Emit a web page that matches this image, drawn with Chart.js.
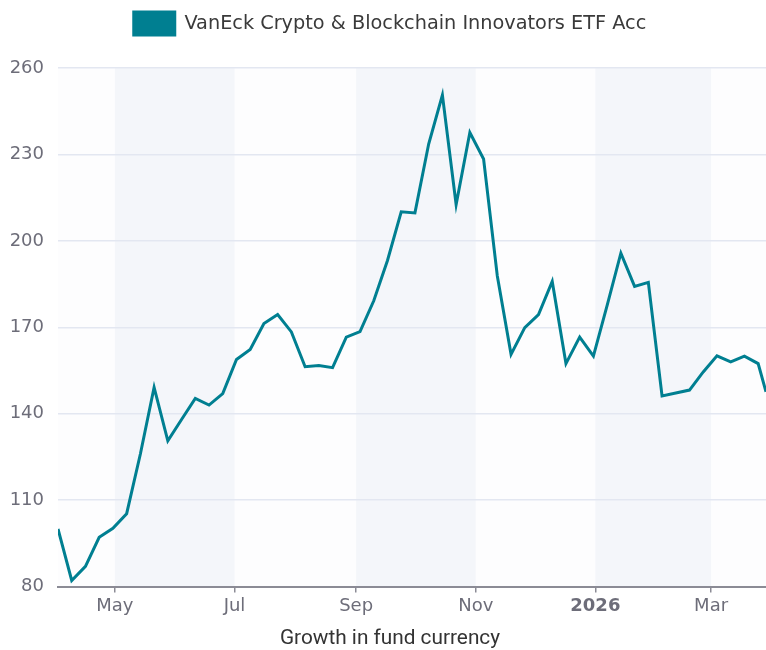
<!DOCTYPE html>
<html>
<head>
<meta charset="utf-8">
<script src="https://cdn.jsdelivr.net/npm/chart.js@4.4.1/dist/chart.umd.min.js"></script>
<style>
  body { margin: 0; background: #ffffff; }
  #wrap { width: 766px; height: 650px; }
</style>
</head>
<body>
<div id="wrap"><canvas id="growth-chart" width="766" height="650"></canvas></div>
<script>
const seriesLabel = 'VanEck Crypto & Blockchain Innovators ETF Acc';

// weekly closes, rebased to 100
const dates = [
  '2025-04-02', '2025-04-09', '2025-04-16', '2025-04-23', '2025-04-30', '2025-05-07',
  '2025-05-14', '2025-05-21', '2025-05-28', '2025-06-04', '2025-06-11', '2025-06-18',
  '2025-06-25', '2025-07-02', '2025-07-09', '2025-07-16', '2025-07-23', '2025-07-30',
  '2025-08-06', '2025-08-13', '2025-08-20', '2025-08-27', '2025-09-03', '2025-09-10',
  '2025-09-17', '2025-09-24', '2025-10-01', '2025-10-08', '2025-10-15', '2025-10-22',
  '2025-10-29', '2025-11-05', '2025-11-12', '2025-11-19', '2025-11-26', '2025-12-03',
  '2025-12-10', '2025-12-17', '2025-12-24', '2025-12-31', '2026-01-07', '2026-01-14',
  '2026-01-21', '2026-01-28', '2026-02-04', '2026-02-11', '2026-02-18', '2026-02-25',
  '2026-03-04', '2026-03-11', '2026-03-18', '2026-03-25', '2026-03-29'
];
const values = [
  100, 82.1, 87.0, 97.1, 100.2, 105.3,
  126, 149.1, 130.6, 138.0, 145.3, 143.0,
  147.0, 158.8, 162.3, 171.3, 174.4, 168.4,
  156.3, 156.7, 156.0, 166.6, 168.5, 179.2,
  193.2, 210.1, 209.7, 233.6, 250.6, 212.6,
  237.6, 228.4, 187.8, 160.6, 169.9, 174.4,
  185.9, 157.4, 166.6, 160.0, 177.6, 195.7,
  184.2, 185.6, 146.2, 147.2, 148.2, 154.5,
  160.1, 158.0, 160.0, 157.4, 147.6
];

const tickDates = ['2025-05-01', '2025-07-01', '2025-09-01', '2025-11-01', '2026-01-01', '2026-03-01'];
const tickLabels = ['May', 'Jul', 'Sep', 'Nov', '2026', 'Mar'];
const bandRanges = [['2025-05-01', '2025-07-01'], ['2025-09-01', '2025-11-01'], ['2026-01-01', '2026-03-01']];

const yTicks = [80, 110, 140, 170, 200, 230, 260];

const toDay = (d) => Date.parse(d + 'T00:00:00Z') / 86400000;

const teal = '#007f91';
const axisGray = '#8b8b95';
const labelGray = '#6d6d79';

const bandsPlugin = {
  id: 'bands',
  beforeDraw(chart) {
    const { ctx, chartArea, scales } = chart;
    ctx.save();
    ctx.fillStyle = '#fdfdfe';
    ctx.fillRect(chartArea.left, chartArea.top, chartArea.right - chartArea.left, chartArea.bottom - chartArea.top);
    ctx.fillStyle = '#f4f6fa';
    bandRanges.forEach(([a, b]) => {
      const x1 = scales.x.getPixelForValue(toDay(a));
      const x2 = scales.x.getPixelForValue(toDay(b));
      ctx.fillRect(x1, chartArea.top, x2 - x1, chartArea.bottom - chartArea.top);
    });
    ctx.restore();
  }
};

// extra room between legend and plot, and let the y labels use the left margin
const layoutTweaks = {
  id: 'layoutTweaks',
  beforeInit(chart) {
    const fit = chart.legend.fit;
    chart.legend.fit = function () {
      fit.bind(chart.legend)();
      this.height += 23;
    };
  },
  afterLayout(chart) {
    const y = chart.scales.y;
    y.left = 0;
    y.width = y.right;
  }
};

const ctx = document.getElementById('growth-chart').getContext('2d');

new Chart(ctx, {
  type: 'line',
  data: {
    datasets: [{
      label: seriesLabel,
      data: dates.map((d, i) => ({ x: toDay(d), y: values[i] })),
      borderColor: teal,
      backgroundColor: teal,
      borderWidth: 3,
      pointRadius: 0,
      tension: 0,
      fill: false,
    }],
  },
  options: {
    responsive: false,
    animation: false,
    layout: { padding: { left: 14, right: 0, top: 2, bottom: 0 } },
    plugins: {
      legend: {
        position: 'top',
        labels: {
          boxWidth: 41,
          boxHeight: 23,
          padding: 10,
          color: '#3a3a3a',
          font: { family: 'DejaVu Sans', size: 19.3 },
        },
      },
      title: {
        display: true,
        position: 'bottom',
        text: 'Growth in fund currency',
        color: '#333333',
        font: { family: 'Roboto', size: 20.8, weight: 'normal', lineHeight: 1.05 },
        padding: { top: 8, bottom: 0 },
      },
      tooltip: { enabled: false },
    },
    scales: {
      x: {
        type: 'linear',
        min: toDay(dates[0]),
        max: toDay(dates[dates.length - 1]),
        afterBuildTicks: (axis) => {
          axis.ticks = tickDates.map((d) => ({ value: toDay(d) }));
        },
        ticks: {
          autoSkip: false,
          maxRotation: 0,
          padding: 3,
          color: labelGray,
          font: (c) => ({
            family: 'DejaVu Sans',
            size: 18,
            weight: c.index === 4 ? 'bold' : 'normal',
          }),
          callback: (value, index) => tickLabels[index],
        },
        grid: {
          drawOnChartArea: false,
          drawTicks: true,
          tickLength: 6,
          color: axisGray,
          lineWidth: 1.5,
        },
        border: { display: true, color: axisGray, width: 2 },
      },
      y: {
        type: 'linear',
        min: 80,
        max: 260,
        afterBuildTicks: (axis) => {
          axis.ticks = yTicks.map((v) => ({ value: v }));
        },
        afterFit: (axis) => {
          axis.width = 44;
        },
        ticks: {
          padding: 14,
          color: labelGray,
          font: { family: 'DejaVu Sans', size: 18 },
        },
        grid: {
          color: '#e3e7f1',
          lineWidth: 1.5,
          drawTicks: false,
        },
        border: { display: false },
      },
    },
  },
  plugins: [bandsPlugin, layoutTweaks],
});
</script>
</body>
</html>
